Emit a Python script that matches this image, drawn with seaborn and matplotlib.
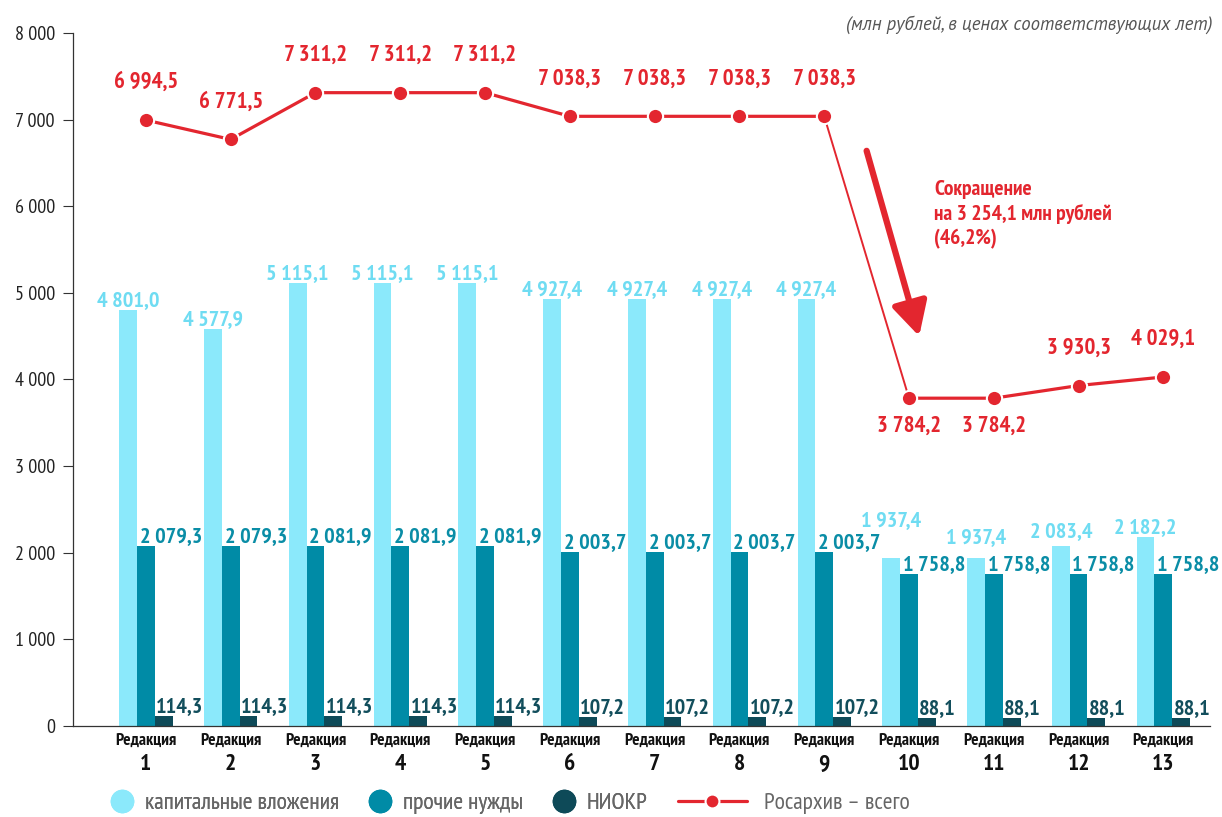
import numpy as np
import pandas as pd
import matplotlib
matplotlib.use("Agg")
import matplotlib.pyplot as plt
import matplotlib.transforms as mtransforms
from matplotlib.lines import Line2D
import seaborn as sns

# ---------------- data ----------------
categories = [str(i) for i in range(1, 14)]
capital = [4801.0, 4577.9, 5115.1, 5115.1, 5115.1, 4927.4, 4927.4, 4927.4, 4927.4,
           1937.4, 1937.4, 2083.4, 2182.2]
other = [2079.3, 2079.3, 2081.9, 2081.9, 2081.9, 2003.7, 2003.7, 2003.7, 2003.7,
         1758.8, 1758.8, 1758.8, 1758.8]
niokr = [114.3, 114.3, 114.3, 114.3, 114.3, 107.2, 107.2, 107.2, 107.2,
         88.1, 88.1, 88.1, 88.1]
total = [6994.5, 6771.5, 7311.2, 7311.2, 7311.2, 7038.3, 7038.3, 7038.3, 7038.3,
         3784.2, 3784.2, 3930.3, 4029.1]
series_names = ["капитальные вложения", "прочие нужды", "НИОКР"]
line_name = "Росархив – всего"
yticks = [0, 1000, 2000, 3000, 4000, 5000, 6000, 7000, 8000]
note_text = "Сокращение\nна 3 254,1 млн рублей\n(46,2%)"
subtitle = "(млн рублей, в ценах соответствующих лет)"

# ---------------- style ----------------
sns.set_theme(style="white")
NARROW = ["PT Sans Narrow", "IBM Plex Sans Condensed", "DejaVu Sans"]
REGULAR = ["PT Sans", "DejaVu Sans"]
plt.rcParams["font.family"] = NARROW

C_LIGHT = "#8BE9FB"
C_MID = "#008BA6"
C_DARK = "#0E4A58"
C_RED = "#E3262F"
L_LIGHT = "#6FDCF2"
L_MID = "#0A8DA6"
L_DARK = "#124E5C"


def fmt(v, dec=1):
    return f"{v:,.{dec}f}".replace(",", " ").replace(".", ",")


df = pd.DataFrame({
    "cat": categories * 3,
    "val": capital + other + niokr,
    "series": sum([[n] * len(categories) for n in series_names], []),
})

fig = plt.figure(figsize=(12.22, 8.17), dpi=100)
ax = fig.add_axes([0.0597, 0.1114, 0.9305, 0.8482])

sns.barplot(data=df, x="cat", y="val", hue="series", hue_order=series_names,
            palette=[C_LIGHT, C_MID, C_DARK], saturation=1, width=0.63,
            linewidth=0, ax=ax, legend=False, errorbar=None)

x = np.arange(len(categories))
bw = 0.21

# line: thick parts and a thin drop segment
dline = pd.DataFrame({"x": x, "y": total})
sns.lineplot(data=dline.iloc[:9], x="x", y="y", color=C_RED, lw=2.3, ax=ax, legend=False)
sns.lineplot(data=dline.iloc[9:], x="x", y="y", color=C_RED, lw=2.3, ax=ax, legend=False)
sns.lineplot(data=dline.iloc[8:10], x="x", y="y", color=C_RED, lw=1.4, ax=ax, legend=False)
ax.plot(x, total, ls="none", marker="o", ms=11, mfc=C_RED, mec="white", mew=1.5, zorder=5)

# red labels
for i, v in enumerate(total):
    below = i in (9, 10)
    ax.annotate(fmt(v), (i, v), xytext=(0, -20 if below else 27), textcoords="offset points",
                ha="center", va="center", color=C_RED, fontsize=16.5, fontweight="bold")

# bar labels
light_extra = [0] * 9 + [20, 8, 3, 0]
for i in range(len(categories)):
    ax.annotate(fmt(capital[i]), (i - bw, capital[i]), xytext=(0, light_extra[i]),
                textcoords="offset points", ha="center", va="bottom",
                color=L_LIGHT, fontsize=16, fontweight="bold")
    ax.annotate(fmt(other[i]), (i - bw / 2, other[i]), xytext=(2, 0),
                textcoords="offset points", ha="left", va="bottom",
                color=L_MID, fontsize=16, fontweight="bold")
    ax.annotate(fmt(niokr[i]), (i + bw / 2, niokr[i]), xytext=(1, 0),
                textcoords="offset points", ha="left", va="bottom",
                color=L_DARK, fontsize=16, fontweight="bold")

# arrow annotation
ax.annotate("", xy=(9.12, 4500), xytext=(8.5, 6640),
            arrowprops=dict(arrowstyle="-|>,head_length=1.7,head_width=0.9", color=C_RED,
                            lw=4.5, shrinkA=0, shrinkB=0))
ax.text(9.3, 6300, note_text, color=C_RED, fontsize=15.5, fontweight="bold",
        ha="left", va="top", linespacing=1.3)

# axes
ax.set_xlim(-0.86, 12.55)
ax.set_ylim(0, 8000)
ax.set_yticks(yticks)
ax.set_yticklabels([fmt(t, 0) for t in yticks], fontsize=14.5, color="#222222")
ax.set_xticks(x)
ax.set_xticklabels(["Редакция"] * len(categories), fontsize=12.5, fontweight="bold",
                   color="#111111")
ax.tick_params(axis="y", direction="out", length=7, width=0.8, color="#333333", pad=6, left=True)
ax.tick_params(axis="x", length=0, pad=5)
ax.set_xlabel("")
ax.set_ylabel("")
for s in ["top", "right"]:
    ax.spines[s].set_visible(False)
for s in ["left", "bottom"]:
    ax.spines[s].set_color("#333333")
    ax.spines[s].set_linewidth(0.9)

trans = mtransforms.blended_transform_factory(ax.transData, fig.transFigure)
for i, c in enumerate(categories):
    ax.text(i, 1 - 765 / 817, c, transform=trans, ha="center", va="center",
            fontsize=17, fontweight="bold", color="#111111")

fig.text(0.992, 1 - 25 / 817, subtitle, ha="right", va="center", fontsize=13.5,
         style="italic", color="#555555", family=REGULAR)

# legends
circ_handles = [
    Line2D([], [], ls="none", marker="o", ms=16, mfc=c, mec=c)
    for c in (C_LIGHT, C_MID, C_DARK)
]
leg1 = fig.legend(circ_handles, series_names, loc="center left",
                  bbox_to_anchor=(111 / 1222, 1 - 803 / 817), frameon=False, ncol=3,
                  fontsize=17, labelcolor="#666666", handlelength=0.93, handletextpad=0.52,
                  columnspacing=1.25, borderpad=0, borderaxespad=0)
line_handle = Line2D([], [], color=C_RED, lw=2.3, marker="o", ms=10, mfc=C_RED,
                     mec="white", mew=1.5)
fig.legend([line_handle], [line_name], loc="center left",
           bbox_to_anchor=(678 / 1222, 1 - 803 / 817), frameon=False,
           fontsize=17, labelcolor="#666666", handlelength=2.92, handletextpad=0.72,
           borderpad=0, borderaxespad=0)
fig.add_artist(leg1)

fig.savefig("out.png", dpi=100)
